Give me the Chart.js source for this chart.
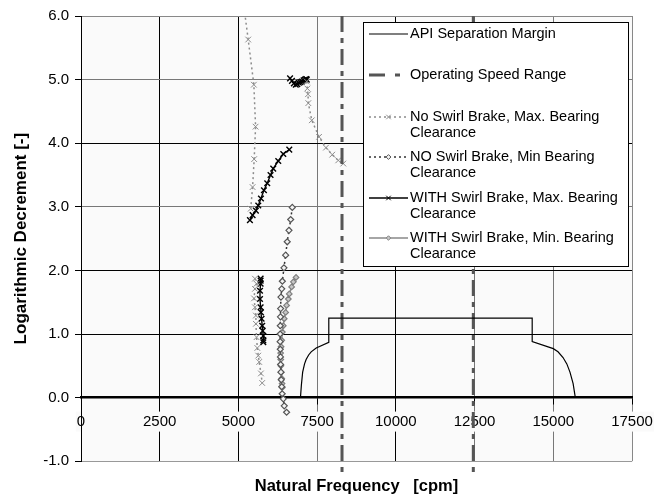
<!DOCTYPE html>
<html>
<head>
  <title>Logarithmic Decrement vs Natural Frequency</title>
  <script src="https://cdn.jsdelivr.net/npm/chart.js"></script>
  <style>
    body { margin: 0; background: #fff; }
  </style>
</head>
<body>
  <canvas id="myChart" width="669" height="499"></canvas>

  <script>
    // series names as shown in the legend
    const seriesNames = [
      'API Separation Margin',
      'Operating Speed Range',
      'No Swirl Brake, Max. Bearing Clearance',
      'NO Swirl Brake, Min Bearing Clearance',
      'WITH Swirl Brake, Max. Bearing Clearance',
      'WITH Swirl Brake, Min. Bearing Clearance'
    ];

    const xTicks = [0, 2500, 5000, 7500, 10000, 12500, 15000, 17500];
    const yTicks = [-1, 0, 1, 2, 3, 4, 5, 6];

    // API separation margin curve
    const apiX = [6970, 7000, 7040, 7100, 7150, 7230, 7310, 7470, 7870, 7870, 14330, 14330, 15000, 15150, 15310, 15430, 15530, 15630, 15700];
    const apiY = [0, 0.2, 0.4, 0.53, 0.6, 0.67, 0.72, 0.78, 0.87, 1.25, 1.25, 0.88, 0.77, 0.72, 0.63, 0.53, 0.40, 0.22, 0];

    // operating speed range limits (two vertical lines)
    const speedX = [8290, 8290, null, 12460, 12460];
    const speedY = [6, -1.25, null, 6, -1.25];

    // No swirl brake, max clearance (null = break in line)
    const noSwirlMaxX = [5200, 5310, 5490, 5545, 5500, 5450, 5390, null,
      7170, 7190, 7210, 7220, 7330, 7560, 7780, 7980, 8170, 8330, null,
      5525, 5575, 5525, 5495, 5525, 5555, 5555, 5575, 5600, 5630, 5660, 5715, 5755];
    const noSwirlMaxY = [6.05, 5.63, 4.92, 4.26, 3.75, 3.31, 2.97, null,
      4.97, 4.86, 4.77, 4.63, 4.36, 4.10, 3.93, 3.82, 3.73, 3.68, null,
      1.87, 1.79, 1.71, 1.56, 1.42, 1.29, 1.16, 0.95, 0.78, 0.66, 0.56, 0.38, 0.23];

    // NO swirl brake, min clearance
    const noSwirlMinX = [6710, 6660, 6605, 6550, 6500, 6445, 6395, 6375, 6350, 6340, 6335, 6330, 6325, 6325, 6330, 6335, 6340, 6350, 6360, 6375, 6390, 6425, 6455, 6530];
    const noSwirlMinY = [2.99, 2.80, 2.63, 2.45, 2.24, 2.04, 1.83, 1.71, 1.58, 1.40, 1.27, 1.13, 1.00, 0.88, 0.76, 0.64, 0.52, 0.40, 0.28, 0.17, 0.06, -0.02, -0.13, -0.23];

    // WITH swirl brake, max clearance
    const withMaxX = [6640, 6700, 6760, 6820, 6870, 6920, 6970, 7020, 7070, 7110, 7150, 7170, null,
      5365, 5450, 5555, 5630, 5715, 5810, 5915, 6020, 6105, 6265, 6425, 6615, null,
      5705, 5705, 5705, 5685, 5685, 5705, 5715, 5735, 5755, 5770, 5790, 5790, 5790];
    const withMaxY = [5.02, 4.98, 4.94, 4.92, 4.93, 4.95, 4.96, 4.97, 4.99, 5.00, 5.01, 5.00, null,
      2.79, 2.87, 2.94, 3.02, 3.13, 3.26, 3.37, 3.50, 3.60, 3.72, 3.83, 3.90, null,
      1.87, 1.84, 1.79, 1.68, 1.55, 1.42, 1.34, 1.24, 1.13, 1.05, 0.97, 0.90, 0.87];

    // WITH swirl brake, min clearance
    const withMinX = [6830, 6745, 6690, 6615, 6585, 6530, 6500, 6455, 6425, 6395, 6375, 6355, 6340, 6345, 6350, 6360, 6375, 6385, 6395];
    const withMinY = [1.89, 1.82, 1.74, 1.63, 1.55, 1.45, 1.34, 1.24, 1.13, 1.03, 0.90, 0.80, 0.70, 0.60, 0.50, 0.40, 0.30, 0.22, 0.16];

    function pts(xs, ys) {
      return xs.map((x, i) => ({ x: x, y: ys[i] }));
    }

    const FONT = "'Liberation Sans', Arial, sans-serif";
    const gridX = { 0: '#000', 2500: '#000', 5000: '#000', 7500: '#777', 10000: '#000', 12500: '#777', 15000: '#777', 17500: '#888' };
    const gridY = { '-1': '#999', 0: '#000', 1: '#000', 2: '#000', 3: '#777', 4: '#000', 5: '#777', 6: '#888' };

    function drawMarker(ctx, style, x, y, r, stroke, fill, lw) {
      ctx.save();
      ctx.setLineDash([]);
      ctx.lineWidth = lw;
      ctx.strokeStyle = stroke;
      ctx.fillStyle = fill;
      ctx.beginPath();
      if (style === 'crossRot') {
        const d = r * 0.7071;
        ctx.moveTo(x - d, y - d); ctx.lineTo(x + d, y + d);
        ctx.moveTo(x - d, y + d); ctx.lineTo(x + d, y - d);
        ctx.stroke();
      } else if (style === 'rectRot') {
        ctx.moveTo(x, y - r); ctx.lineTo(x + r, y); ctx.lineTo(x, y + r); ctx.lineTo(x - r, y);
        ctx.closePath();
        ctx.fill();
        ctx.stroke();
      }
      ctx.restore();
    }

    const background = {
      id: 'background',
      beforeDraw(chart) {
        const { ctx, chartArea } = chart;
        ctx.save();
        ctx.fillStyle = '#fff';
        ctx.fillRect(0, 0, chart.width, chart.height);
        ctx.fillStyle = '#fafafa';
        ctx.fillRect(chartArea.left, chartArea.top, chartArea.right - chartArea.left, chartArea.bottom - chartArea.top);
        ctx.restore();
      }
    };

    const boxLegend = {
      id: 'boxLegend',
      afterDraw(chart) {
        const ctx = chart.ctx;
        const rows = [34, 75, 117, 157, 198, 238];
        ctx.save();
        ctx.fillStyle = '#fff';
        ctx.fillRect(363.5, 22.5, 265, 244);
        ctx.strokeStyle = '#000';
        ctx.lineWidth = 1;
        ctx.strokeRect(363.5, 22.5, 265, 244);
        ctx.font = '14.5px ' + FONT;
        ctx.textBaseline = 'middle';
        chart.data.datasets.forEach((ds, i) => {
          const y = rows[i];
          ctx.save();
          ctx.strokeStyle = ds.borderColor;
          ctx.lineWidth = ds.borderWidth;
          ctx.setLineDash(ds.legendDash || ds.borderDash || []);
          ctx.beginPath();
          ctx.moveTo(369, y);
          ctx.lineTo(408, y);
          ctx.stroke();
          ctx.restore();
          if (ds.pointStyle && ds.pointRadius > 0) {
            drawMarker(ctx, ds.pointStyle, 388.5, y, ds.pointRadius * 0.8, ds.pointBorderColor, ds.pointBackgroundColor, 1);
          }
          // wrap the label text
          const words = ds.label.split(' ');
          const lines = [];
          let cur = '';
          words.forEach(w => {
            const t = cur ? cur + ' ' + w : w;
            if (ctx.measureText(t).width > 222 && cur) { lines.push(cur); cur = w; } else { cur = t; }
          });
          lines.push(cur);
          ctx.fillStyle = '#000';
          lines.forEach((l, k) => ctx.fillText(l, 410, y + k * 15.5));
        });
        ctx.restore();
      }
    };

    const ctx = document.getElementById('myChart').getContext('2d');
    const chart = new Chart(ctx, {
      type: 'scatter',
      data: {
        datasets: [
          {
            label: seriesNames[0],
            data: pts(apiX, apiY),
            showLine: true,
            borderColor: '#000',
            borderWidth: 1.2,
            pointRadius: 0,
            tension: 0
          },
          {
            label: seriesNames[1],
            data: pts(speedX, speedY),
            showLine: true,
            borderColor: '#555',
            borderWidth: 3,
            borderDash: [16, 6, 5, 6],
            legendDash: [16, 10, 5, 20],
            pointRadius: 0,
            clip: false
          },
          {
            label: seriesNames[2],
            data: pts(noSwirlMaxX, noSwirlMaxY),
            showLine: true,
            borderColor: '#8c8c8c',
            borderWidth: 1.5,
            borderDash: [2, 3],
            pointStyle: 'crossRot',
            pointRadius: 4,
            pointBorderWidth: 1,
            pointBorderColor: '#8c8c8c',
            pointBackgroundColor: '#8c8c8c'
          },
          {
            label: seriesNames[3],
            data: pts(noSwirlMinX, noSwirlMinY),
            showLine: true,
            borderColor: '#333',
            borderWidth: 1.5,
            borderDash: [2, 3],
            pointStyle: 'rectRot',
            pointRadius: 3,
            pointBorderWidth: 1.2,
            pointBorderColor: '#555',
            pointBackgroundColor: '#f4f4f4'
          },
          {
            label: seriesNames[4],
            data: pts(withMaxX, withMaxY),
            showLine: true,
            borderColor: '#000',
            borderWidth: 1.4,
            pointStyle: 'crossRot',
            pointRadius: 4,
            pointBorderWidth: 1.4,
            pointBorderColor: '#000',
            pointBackgroundColor: '#000'
          },
          {
            label: seriesNames[5],
            data: pts(withMinX, withMinY),
            showLine: true,
            borderColor: '#888',
            borderWidth: 1.3,
            pointStyle: 'rectRot',
            pointRadius: 2.8,
            pointBorderWidth: 1.2,
            pointBorderColor: '#808080',
            pointBackgroundColor: '#c8c8c8'
          }
        ]
      },
      options: {
        responsive: false,
        animation: false,
        events: [],
        layout: { padding: { left: 0, right: 37, top: 16, bottom: 0 } },
        plugins: {
          legend: { display: false },
          tooltip: { enabled: false },
          title: {
            display: true,
            position: 'bottom',
            fullSize: false,
            text: 'Natural Frequency   [cpm]',
            color: '#000',
            font: { family: FONT, size: 16.5, weight: 'bold' },
            padding: { top: 15, bottom: 3 }
          }
        },
        scales: {
          x: {
            type: 'linear',
            position: { y: 0 },
            min: 0,
            max: 17500,
            afterFit: s => { s.height = 0; },
            afterBuildTicks: s => { s.ticks = xTicks.map(v => ({ value: v })); },
            ticks: {
              callback: v => String(v),
              color: '#000',
              font: { family: FONT, size: 15 },
              padding: 9,
              maxRotation: 0,
              autoSkip: false,
              showLabelBackdrop: true,
              backdropColor: '#fafafa',
              backdropPadding: 1
            },
            grid: {
              color: c => gridX[c.tick.value] || '#777',
              lineWidth: 1,
              drawTicks: true,
              tickLength: 6,
              tickColor: '#000'
            },
            border: { display: true, color: '#000', width: 2.5 }
          },
          y: {
            type: 'linear',
            min: -1,
            max: 6,
            afterFit: s => { s.width = 81; },
            afterBuildTicks: s => { s.ticks = yTicks.map(v => ({ value: v })); },
            ticks: {
              callback: v => Number(v).toFixed(1),
              color: '#000',
              font: { family: FONT, size: 15 },
              padding: 6
            },
            grid: {
              color: c => gridY[c.tick.value] || '#777',
              lineWidth: 1,
              drawTicks: true,
              tickLength: 6,
              tickColor: '#000'
            },
            border: { display: true, color: '#000', width: 1 },
            title: {
              display: true,
              text: 'Logarithmic Decrement [-]',
              color: '#000',
              font: { family: FONT, size: 17, weight: 'bold' },
              padding: { top: 11, bottom: 0 }
            }
          }
        }
      },
      plugins: [background, boxLegend]
    });
  </script>
</body>
</html>
